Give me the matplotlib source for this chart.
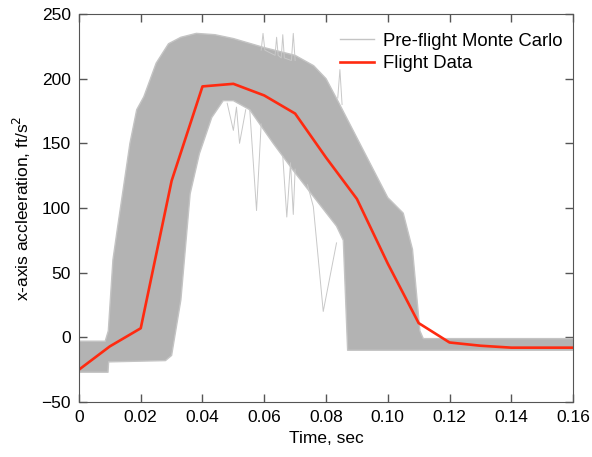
import matplotlib
matplotlib.use("Agg")
import matplotlib.pyplot as plt

plt.rcParams["font.family"] = ["Liberation Sans", "DejaVu Sans"]

# flight data
flight_t = [0.0, 0.01, 0.02, 0.03, 0.04, 0.05, 0.06, 0.07, 0.08, 0.09, 0.10, 0.11, 0.12, 0.13, 0.14, 0.15, 0.16]
flight_a = [-25, -7, 7, 121, 194, 196, 187, 173, 139, 107, 57, 11, -4, -6.5, -8, -8, -8]

# Monte Carlo envelope, upper edge
mc_upper_t = [0.0, 0.0085, 0.0095, 0.011, 0.0125, 0.0165, 0.0187, 0.021, 0.025, 0.029, 0.033,
              0.038, 0.044, 0.05, 0.06, 0.07, 0.076, 0.08, 0.084, 0.092, 0.10, 0.105, 0.108, 0.1104,
              0.1115, 0.16]
mc_upper_a = [-3, -3, 5, 60, 85, 150, 176, 186, 212, 227, 232,
              235, 234, 231, 224, 218, 210, 200, 182, 145, 108, 96, 68, 5,
              -1, -1]

# Monte Carlo envelope, lower edge
mc_lower_t = [0.0, 0.0094, 0.0096, 0.028, 0.030, 0.033, 0.036, 0.039, 0.043, 0.0467, 0.050,
              0.0553, 0.0629, 0.0694, 0.0759, 0.0834, 0.0856, 0.0870, 0.16]
mc_lower_a = [-27, -27, -19, -18, -14, 29, 111, 142, 170, 183, 183,
              176, 150, 129, 109, 86, 75, -10, -10]

# stray Monte Carlo runs
stray1_t = [0.0553, 0.0575, 0.0590]
stray1_a = [176, 98, 165]
stray2_t = [0.0660, 0.0673, 0.0685, 0.0694, 0.0700]
stray2_a = [140, 93, 135, 95, 130]
stray3_t = [0.0740, 0.0759, 0.0791, 0.0834]
stray3_a = [118, 101, 20, 73]
stray4_t = [0.0590, 0.0596, 0.0602, 0.0635, 0.0640, 0.0645, 0.0655, 0.0660, 0.0665, 0.0688, 0.0694, 0.0700]
stray4_a = [222, 235, 222, 218, 232, 218, 216, 234, 216, 214, 235, 214]
stray5_t = [0.0838, 0.0845, 0.0852]
stray5_a = [185, 207, 180]
stray6_t = [0.0480, 0.0500, 0.0510, 0.0520, 0.0540]
stray6_a = [181, 160, 178, 150, 176]

fig = plt.figure(figsize=(5.92, 4.57), dpi=100)
ax = fig.add_axes([0.1334, 0.1204, 0.8346, 0.849])

gray = "#b3b3b3"
ax.fill(mc_upper_t + mc_lower_t[::-1], mc_upper_a + mc_lower_a[::-1], color=gray, lw=0)
ax.plot(mc_upper_t, mc_upper_a, color="#c4c4c4", lw=1.0, label="Pre-flight Monte Carlo")
ax.plot(mc_lower_t, mc_lower_a, color="#c4c4c4", lw=1.0)
for t, a in [(stray1_t, stray1_a), (stray2_t, stray2_a), (stray3_t, stray3_a),
             (stray4_t, stray4_a), (stray5_t, stray5_a), (stray6_t, stray6_a)]:
    ax.plot(t, a, color="#c8c8c8", lw=0.7)

ax.plot(flight_t, flight_a, color="#ff2a10", lw=1.9, label="Flight Data")

ax.set_xlim(0, 0.16)
ax.set_ylim(-50, 250)
ax.set_xticks([0, 0.02, 0.04, 0.06, 0.08, 0.10, 0.12, 0.14, 0.16])
ax.set_xticklabels(["0", "0.02", "0.04", "0.06", "0.08", "0.10", "0.12", "0.14", "0.16"])
ax.set_yticks([-50, 0, 50, 100, 150, 200, 250])
ax.set_yticklabels(["\u221250", "0", "50", "100", "150", "200", "250"])
ax.tick_params(direction="in", top=True, right=True, length=6, width=1,
               color="#555555", labelsize=12.5, pad=6)
for s in ax.spines.values():
    s.set_color("#555555")

ax.set_xlabel("Time, sec", fontsize=12.5, labelpad=4)
ax.set_ylabel("x-axis accleeration, ft/s$^2$", fontsize=12.5, labelpad=6)

leg = ax.legend(loc="upper right", bbox_to_anchor=(1.005, 0.985), frameon=False,
                fontsize=13.3, handlelength=1.85, handletextpad=0.5,
                borderaxespad=0.3, labelspacing=0.3)

fig.savefig("out.png", dpi=100)
